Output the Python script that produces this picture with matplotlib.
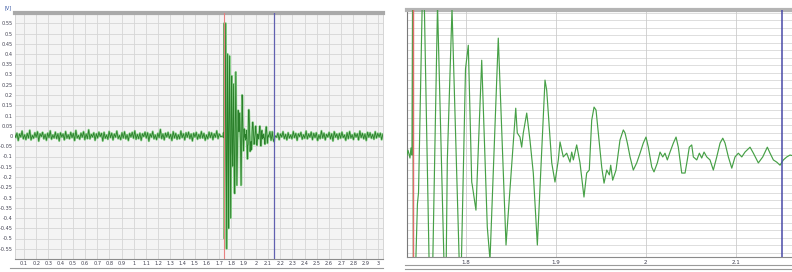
import numpy as np
import matplotlib
matplotlib.use("Agg")
import matplotlib.pyplot as plt
from matplotlib.lines import Line2D

W, H = 792, 272

# ---- data -----------------------------------------------------------------
# baseline noise before the event (thousandths of a volt), sampled every noise_step
pre_noise_mv = [5, -13, 19, -8, 14, -22, 10, -5, 24, -14, 6, -18, 13, -10, 28, -19, 3, -11, 16, -6, 21, -25, 11, -3, 18, -14, 8, -21, 14, -8,
                25, -16, 5, -10, 19, -13, 11, -24, 16, -5, 10, -19, 22, -11, 6, -14, 18, -8, 13, -22, 27, -10, 3, -16, 14, -6, 21, -18, 10, -13,
                30, -14, 8, -5, 16, -21, 11, -10, 19, -3, 13, -24, 18, -11, 5, -16, 22, -8, 14, -19, 10, -6, 24, -13, 3, -18, 16, -10, 21, -14,
                6, -22, 13, -5, 18, -11, 25, -16, 8, -13, 14, -21, 11, -3, 19, -10, 16, -25, 10, -6, 22, -14, 5, -18, 13, -8, 32, -13, 10, -19,
                14, -5, 18, -11, 8, -22, 21, -10, 13, -16, 6, -14, 24, -8, 11, -19, 16, -6, 19, -13, 10, -24, 14, -5, 18, -16, 8, -11, 22, -10,
                13, -21, 5, -14, 19, -8, 16, -18, 11, -6, 25, -13, 10, -3]
# baseline noise after the event
post_noise_mv = [-6, 14, -18, 10, -5, 21, -13, 8, -19, 16, -10, 5, -14, 22, -8, 13, -21, 11, -3, 18, -16, 6, -11, 24, -14, 10, -6, 19, -18, 13,
                 -8, 16, -22, 5, -13, 25, -10, 14, -19, 8, -5, 18, -14, 11, -24, 21, -6, 10, -16, 13, -11, 19, -8, 5, -21, 16, -13, 22, -10, 6,
                 -18, 14, -5, 11, -19, 24, -8, 13, -14, 10, -22, 18, -6, 16, -11, 8, -16, 21, -10, 13, -5, 14, -18, 10, -8]
noise_step = 0.0105
pre_start = 0.0
post_start = 2.1708

# the damped burst (time in s, value in V)
burst_t = [1.7348, 1.7359, 1.7381, 1.7392, 1.7403, 1.7412, 1.7420, 1.7464, 1.7476, 1.7529,
           1.7614, 1.7687, 1.7776, 1.7796, 1.7848, 1.7942, 1.7998, 1.8029, 1.8067, 1.8073,
           1.8114, 1.8178, 1.8240, 1.8270, 1.8362, 1.8448, 1.8556, 1.8573, 1.8603, 1.8622,
           1.8640, 1.8678, 1.8714, 1.8751, 1.8796, 1.8881, 1.8900, 1.8956, 1.8992, 1.9029,
           1.9048, 1.9084, 1.9122, 1.9159, 1.9178, 1.9196, 1.9233, 1.9270, 1.9314, 1.9344,
           1.9373, 1.9400, 1.9426, 1.9448, 1.9473, 1.9511, 1.9537, 1.9567, 1.9596, 1.9611,
           1.9633, 1.9670, 1.9714, 1.9751, 1.9770, 1.9796, 1.9826, 1.9862, 1.9900, 1.9937,
           1.9973, 2.0003, 2.0029, 2.0067, 2.0092, 2.0129, 2.0159, 2.0189, 2.0214, 2.0240,
           2.0270, 2.0307, 2.0337, 2.0362, 2.0400, 2.0437, 2.0462, 2.0484, 2.0511, 2.0529,
           2.0567, 2.0596, 2.0622, 2.0648, 2.0678, 2.0714, 2.0751, 2.0789, 2.0826, 2.0856,
           2.0881, 2.0918, 2.0956, 2.0992, 2.1029, 2.1067, 2.1103, 2.1159, 2.1196, 2.1251,
           2.1300, 2.1351, 2.1381, 2.1418, 2.1456, 2.1492, 2.1529, 2.1567, 2.1603]
burst_v = [0.0, 0.013, -0.008, 0.019, 0.0, 0.55, -0.50, -0.13, -0.10, 0.55,
           -0.55, 0.40, -0.45, -0.013, 0.39, -0.40, 0.23, 0.293, -0.072, -0.08,
           -0.147, 0.253, -0.192, -0.28, 0.312, -0.24, 0.125, 0.059, 0.048, 0.021,
           0.059, 0.112, 0.04, -0.048, -0.24, 0.20, 0.173, -0.021, -0.072, -0.013,
           0.035, -0.005, 0.005, -0.019, 0.008, -0.013, 0.027, -0.021, -0.112, -0.048,
           -0.04, 0.093, 0.128, 0.12, 0.059, -0.032, -0.075, -0.04, -0.053, -0.027,
           -0.067, -0.04, 0.04, 0.067, 0.059, 0.032, -0.005, -0.04, -0.021, 0.005,
           0.032, 0.048, 0.021, -0.032, -0.045, -0.021, 0.008, -0.005, 0.005, -0.013,
           0.008, 0.032, 0.048, 0.021, -0.048, -0.048, -0.013, 0.021, 0.027, -0.005,
           -0.013, 0.005, -0.008, 0.008, -0.005, -0.013, -0.04, -0.005, 0.032, 0.045,
           0.032, -0.005, -0.035, -0.005, 0.005, -0.005, 0.008, 0.021, 0.005, -0.021,
           -0.005, 0.021, 0.005, -0.013, -0.019, -0.027, -0.013, -0.005, 0.0]

cursor_red = 1.741
cursor_blue = 2.151

left_xticks = [0.1, 0.2, 0.3, 0.4, 0.5, 0.6, 0.7, 0.8, 0.9, 1.0, 1.1, 1.2, 1.3, 1.4, 1.5,
               1.6, 1.7, 1.8, 1.9, 2.0, 2.1, 2.2, 2.3, 2.4, 2.5, 2.6, 2.7, 2.8, 2.9, 3.0]
left_yticks = [-0.55, -0.5, -0.45, -0.4, -0.35, -0.3, -0.25, -0.2, -0.15, -0.1, -0.05, 0.0,
               0.05, 0.1, 0.15, 0.2, 0.25, 0.3, 0.35, 0.4, 0.45, 0.5, 0.55]
right_xticks = [1.8, 1.9, 2.0, 2.1]
right_ygrid = [-0.26, -0.24, -0.22, -0.2, -0.18, -0.16, -0.14, -0.12, -0.1, -0.08, -0.06, -0.04, -0.02,
               0.0, 0.02, 0.04, 0.06, 0.08, 0.1, 0.12, 0.14, 0.16, 0.18, 0.2, 0.22, 0.24, 0.26,
               0.28, 0.3, 0.32, 0.34, 0.36, 0.38]
y_unit = "[V]"

# ---- build series ----------------------------------------------------------
t_pre = pre_start + noise_step * np.arange(len(pre_noise_mv))
t_post = post_start + noise_step * np.arange(len(post_noise_mv))
t_all = np.concatenate([t_pre, np.array(burst_t), t_post])
v_all = np.concatenate([np.array(pre_noise_mv) / 1000.0, np.array(burst_v),
                        np.array(post_noise_mv) / 1000.0])


def fmt(v):
    s = f"{v:.2f}".rstrip("0").rstrip(".")
    return "0" if s in ("-0", "0") else s


fig = plt.figure(figsize=(W / 100, H / 100), dpi=100)
fig.patch.set_facecolor("white")

# ---- left panel ------------------------------------------------------------
ax1 = fig.add_axes([15 / W, 13 / H, 368 / W, 246 / H])
ax1.set_facecolor("#f4f4f4")
ax1.plot(t_all, v_all, color="#8fd28f", lw=1.6, zorder=2)
ax1.plot(t_all, v_all, color="#2a7f2a", lw=0.6, zorder=3)
ax1.axvline(cursor_red, color="#e88080", lw=0.8, zorder=4)
ax1.axvline(cursor_blue, color="#6060b0", lw=0.9, zorder=4)
ax1.set_xlim(0.026, 3.043)
ax1.set_ylim(-0.6, 0.6)
ax1.set_xticks(left_xticks)
ax1.set_xticklabels([fmt(v) for v in left_xticks])
ax1.set_yticks(left_yticks)
ax1.set_yticklabels([fmt(v) for v in left_yticks])
ax1.grid(True, color="#d6d6d6", lw=0.6, zorder=0)
ax1.tick_params(length=0, labelsize=3.6, colors="#404050", pad=1.5)
for s in ("left", "right"):
    ax1.spines[s].set_color("#cfcfcf")
    ax1.spines[s].set_linewidth(0.6)
ax1.spines["top"].set_color("#a9a9a9")
ax1.spines["top"].set_linewidth(3)
ax1.spines["bottom"].set_color("#8c8c8c")
ax1.spines["bottom"].set_linewidth(0.8)
fig.text(5 / W, 1 - 8 / H, y_unit, fontsize=3.5, color="#3050a0", ha="left", va="center")
fig.add_artist(Line2D([10 / W, 383 / W], [1 - 268 / H, 1 - 268 / H], color="#9a9a9a", lw=0.8))

# ---- right panel -----------------------------------------------------------
ax2 = fig.add_axes([407 / W, 15 / H, 385 / W, 247 / H])
ax2.set_facecolor("white")
ax2.plot(t_all, v_all, color="#46a046", lw=0.85, zorder=3)
ax2.axvline(cursor_red, color="#e06a6a", lw=1.0, zorder=4)
ax2.axvline(cursor_blue, color="#4a4aa8", lw=1.1, zorder=4)
ax2.set_xlim(1.7348, 2.1625)
ax2.set_ylim(-0.272, 0.387)
for g in right_ygrid:
    ax2.axhline(g, color="#d8d8d8", lw=0.6, zorder=0)
ax2.set_xticks(right_xticks)
ax2.set_xticklabels([fmt(v) for v in right_xticks])
ax2.set_yticks([])
ax2.grid(True, axis="x", color="#cccccc", lw=0.6, zorder=0)
ax2.tick_params(length=0, labelsize=4, colors="#404050", pad=2)
ax2.spines["left"].set_color("#7a7a7a")
ax2.spines["left"].set_linewidth(0.8)
ax2.spines["right"].set_visible(False)
ax2.spines["top"].set_color("#b4b4b4")
ax2.spines["top"].set_linewidth(3)
ax2.spines["bottom"].set_color("#8a8a8a")
ax2.spines["bottom"].set_linewidth(0.8)
for yy in (265, 269):
    fig.add_artist(Line2D([405 / W, 1.0], [1 - yy / H, 1 - yy / H], color="#9a9a9a", lw=0.8))

fig.savefig("out.png", dpi=100, facecolor="white")
